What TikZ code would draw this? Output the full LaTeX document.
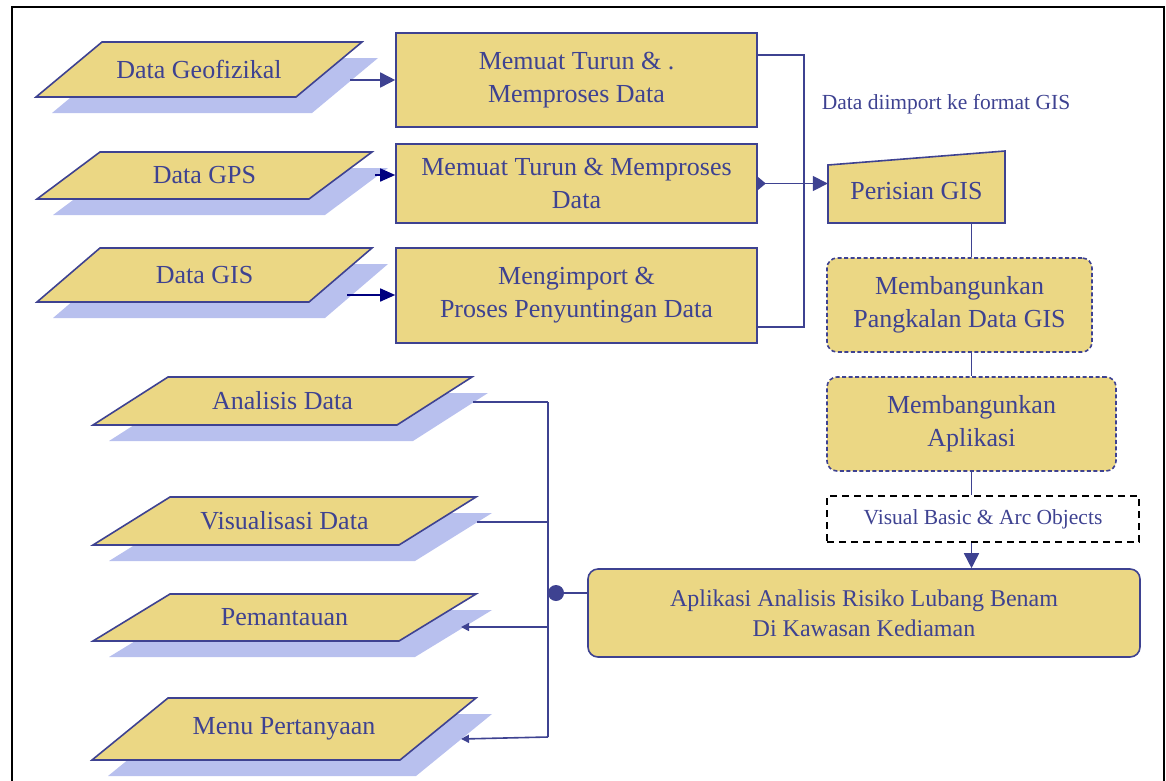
\documentclass[tikz,border=0pt]{standalone}
\usepackage{fontspec}
\setmainfont{Liberation Serif}
\usetikzlibrary{arrows.meta, positioning}

\definecolor{inkblue}{RGB}{62,66,145}
\definecolor{boxfill}{RGB}{235,215,132}
\definecolor{shadowblue}{RGB}{184,192,238}
\definecolor{navyarrow}{RGB}{0,0,128}

\newcommand{\cardfont}{\fontsize{26}{33}\selectfont}
\newcommand{\appfont}{\fontsize{24}{30}\selectfont}
\newcommand{\notefont}{\fontsize{21.5}{26}\selectfont}

% input card: name, top-left x, top y, width, skew, height, text
\newcommand{\datacard}[7]{%
  \fill[shadowblue] (#2+16,#3+16) -- ++(#4,0) -- ++(-#5,#6) -- ++(-#4,0) -- cycle;
  \draw[cardline] (#2,#3) -- ++(#4,0) -- ++(-#5,#6) -- ++(-#4,0) -- cycle;
  \node[cardtext] (#1) at (#2+#4/2-#5/2,#3+#6/2) {#7};
}

\begin{document}
\begin{tikzpicture}[
  x=1pt, y=-1pt,
  cardline/.style={draw=inkblue, line width=1.6pt, fill=boxfill},
  cardtext/.style={text=inkblue, font=\cardfont, inner sep=0pt},
  procbox/.style={draw=inkblue, line width=1.6pt, fill=boxfill, text=inkblue, align=center, font=\cardfont, inner sep=0pt},
  stagebox/.style={procbox, rounded corners=10pt, dash pattern=on 4pt off 2.5pt},
  conn/.style={draw=inkblue, line width=1.6pt},
  feed/.style={conn, -{Triangle[length=15pt, width=15pt]}},
  navyfeed/.style={draw=navyarrow, line width=1.6pt, -{Triangle[length=15pt, width=13pt]}},
  outfeed/.style={conn, -{Triangle[length=8pt, width=8pt]}}
]
  \useasboundingbox (0,0) rectangle (1166,780);
  \draw[black, line width=2pt] (12,800) -- (12,7) -- (1164,7) -- (1164,800);

  % input data
  \datacard{geo}{102}{42}{260}{66}{55}{Data Geofizikal}
  \datacard{gps}{100}{152}{272}{63}{47}{Data GPS}
  \datacard{gisdata}{100}{248}{272}{63}{54}{Data GIS}

  % processing
  \node[procbox, minimum width=361pt, minimum height=94pt] (load1) at (576.5,80) {Memuat Turun \& .\\Memproses Data};
  \node[procbox, minimum width=361pt, minimum height=79pt] (load2) at (576.5,183.5) {Memuat Turun \& Memproses\\Data};
  \node[procbox, minimum width=361pt, minimum height=95pt] (load3) at (576.5,295.5) {Mengimport \&\\Proses Penyuntingan Data};

  \coordinate (geo-out) at (350,80);
  \coordinate (gps-out) at (375,175);
  \coordinate (gis-out) at (347,295);
  \draw[feed] (geo-out) -- (geo-out -| load1.west);
  \draw[navyfeed] (gps-out) -- (gps-out -| load2.west);
  \draw[navyfeed] (gis-out) -- (gis-out -| load3.west);

  % GIS software
  \draw[cardline] (828,223) -- (1005,223) -- (1005,151) -- (828,165) -- cycle;
  \node[cardtext, minimum width=177pt, minimum height=64pt] (gis) at (916.5,191) {Perisian GIS};
  \node[text=inkblue, font=\notefont, inner sep=0pt] (note) at (946,104) {Data diimport ke format GIS};

  \coordinate (bus) at (804,183.5);
  \draw[conn] ([yshift=25pt]load1.east) -| (bus) |- ([yshift=-31.5pt]load3.east);
  \draw[conn, {Triangle[reversed, length=8pt, width=13pt]}-{Triangle[length=15pt, width=15pt]}] (load2.east) -- (load2.east -| gis.west);

  % development stages
  \node[stagebox, minimum width=265pt, minimum height=94pt] (dbase) at (959.5,305) {Membangunkan\\Pangkalan Data GIS};
  \node[stagebox, minimum width=289pt, minimum height=94pt] (devapp) at (971.5,424) {Membangunkan\\Aplikasi};
  \node[draw=black, line width=1.5pt, dash pattern=on 7pt off 5pt, text=inkblue, font=\notefont, minimum width=312pt, minimum height=46pt, inner sep=0pt] (tools) at (983,519) {Visual Basic \& Arc Objects};
  \node[procbox, rounded corners=10pt, font=\appfont, minimum width=552pt, minimum height=88pt] (riskapp) at (864,613) {Aplikasi Analisis Risiko Lubang Benam\\Di Kawasan Kediaman};

  \draw[conn] (gis.south -| devapp.north) -- (dbase.north -| devapp.north);
  \draw[conn] (dbase.south -| devapp.north) -- (devapp.north);
  \draw[conn] (devapp.south) -- (devapp.south |- tools.north);
  \draw[feed] (tools.south -| devapp.south) -- (riskapp.north -| devapp.south);

  % application functions
  \datacard{analysis}{168}{377}{304}{75}{48}{Analisis Data}
  \datacard{visual}{170}{497}{306}{77}{48}{Visualisasi Data}
  \datacard{monitor}{170}{594}{306}{77}{47}{Pemantauan}
  \datacard{query}{168}{698}{308}{76}{62}{Menu Pertanyaan}

  \coordinate (trunk-top) at (548,402);
  \coordinate (trunk-bot) at (548,737);
  \coordinate (hub) at (556,593);
  \draw[conn] (trunk-top) -- (trunk-bot);
  \draw[conn] (trunk-top) -- (473,402);
  \draw[conn] (548,522) -- (477,522);
  \draw[outfeed] (548,627) -- (461,627);
  \draw[outfeed] (trunk-bot) -- (461,739);
  \fill[inkblue] (hub) circle (8pt);
  \draw[conn] (hub) -- (hub -| riskapp.west);
\end{tikzpicture}
\end{document}
